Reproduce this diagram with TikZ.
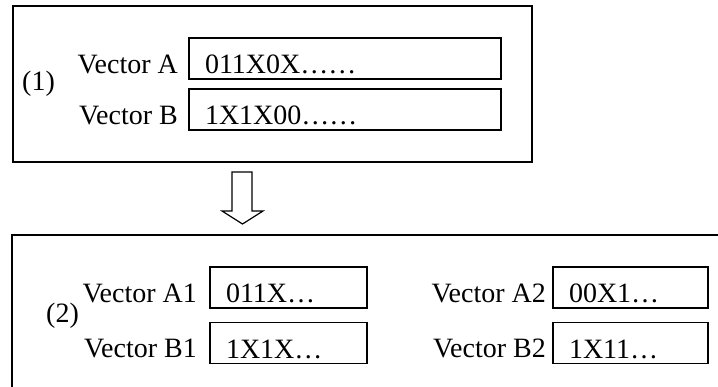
\documentclass[tikz,border=0pt]{standalone}
\usepackage{fontspec}
\setmainfont{Liberation Serif}
\begin{document}
\begin{tikzpicture}[x=1pt,y=-1pt,
  every node/.style={font=\fontsize{28}{30}\selectfont},
  frame/.style={draw,line width=1.6pt},
  field/.style={draw,line width=1.6pt,inner xsep=16pt,inner ysep=0pt,
    minimum height=41pt,text height=36pt,text depth=5pt,align=left},
  lbl/.style={inner sep=0pt,anchor=base east},
  tag/.style={inner sep=0pt,anchor=west}]
\useasboundingbox (0,0) rectangle (718,387);
\clip (0,0) rectangle (718,387);
% stage (1)
\node[frame,minimum width=519pt,minimum height=156pt,inner sep=0pt] (stage1) at (272.5,84) {};
\node[tag] (t1) at (22,84) {(1)};
\node[field,text width=280pt] (fa) at (345,58.5) {011X0X……};
\node[field,text width=280pt] (fb) at (345,109.5) {1X1X00……};
\node[lbl] (la) at (178,74) {Vector A};
\node[lbl] (lb) at (178,125) {Vector B};
% block arrow
\draw[line width=1.2pt,line join=miter] (232,172) -- (252,172) -- (252,211) -- (263,211)
  -- (242.5,224) -- (222,211) -- (232,211) -- cycle;
% stage (2)
\coordinate (s2tr) at (740,235);
\coordinate (s2tl) at (12,235);
\coordinate (s2bl) at (12,400);
\draw[line width=1.6pt] (s2tr) -- (s2tl) -- (s2bl);
\node[tag] (t2) at (46,316) {(2)};
\node[field,text width=125pt] (fa1) at (288.5,287.5) {011X…};
\node[field,text width=125pt] (fb1) at (288.5,343) {1X1X…};
\node[field,text width=123pt] (fa2) at (630.5,287.5) {00X1…};
\node[field,text width=123pt] (fb2) at (630.5,343) {1X11…};
\node[lbl] (la1) at (197,303) {Vector A1};
\node[lbl] (lb1) at (197,358) {Vector B1};
\node[lbl] (la2) at (546,303) {Vector A2};
\node[lbl] (lb2) at (546,358) {Vector B2};
\end{tikzpicture}
\end{document}
